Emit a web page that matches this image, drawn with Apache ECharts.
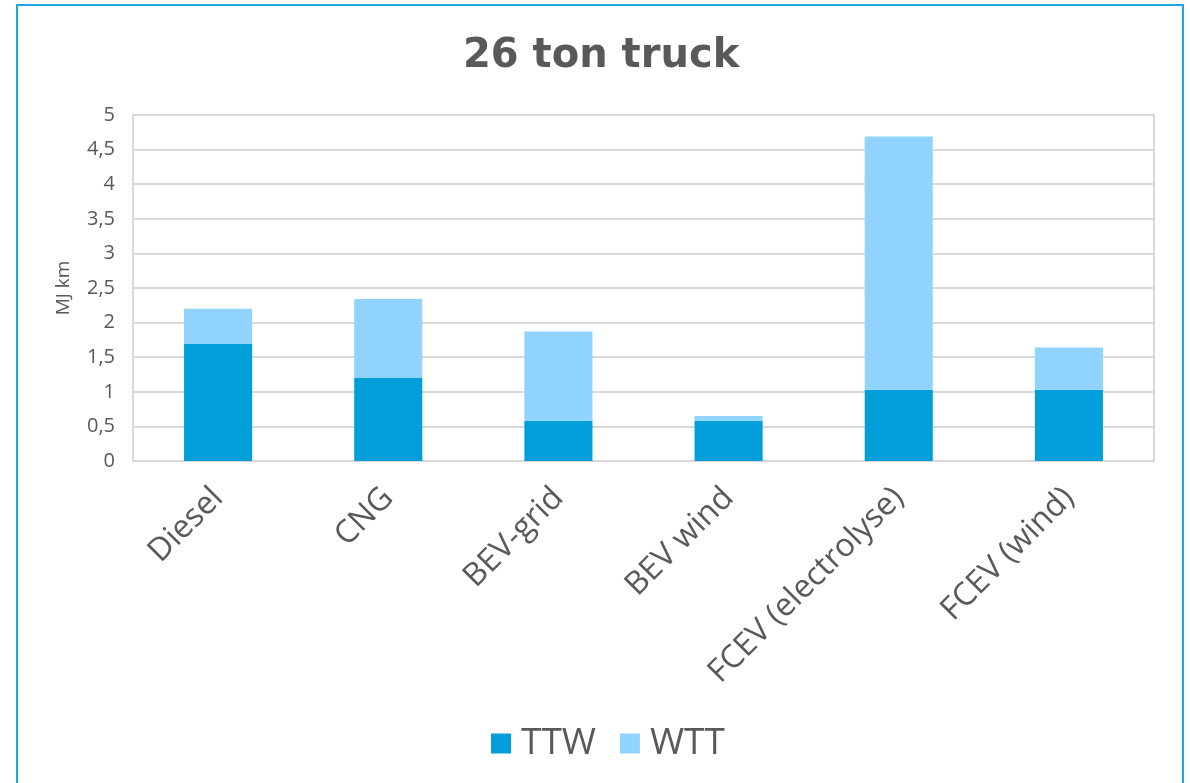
<!DOCTYPE html>
<html>
<head>
<meta charset="utf-8">
<script src="https://cdn.jsdelivr.net/npm/echarts@6/dist/echarts.min.js"></script>
<style>
html,body{margin:0;padding:0;background:#fff;}
#c{width:1190px;height:783px;}
</style>
</head>
<body>
<div id="c"></div>
<script>
const categories = ['Diesel', 'CNG', 'BEV-grid', 'BEV wind', 'FCEV (electrolyse)', 'FCEV (wind)'];
const ttw = [1.69, 1.2, 0.58, 0.58, 1.03, 1.03];
const wtt = [0.51, 1.14, 1.29, 0.07, 3.66, 0.61];
const yTicks = [0, 0.5, 1, 1.5, 2, 2.5, 3, 3.5, 4, 4.5, 5];

const font = '"Open Sans", "Noto Sans", sans-serif';
const chart = echarts.init(document.getElementById('c'), null, {renderer: 'canvas'});
chart.setOption({
  animation: false,
  backgroundColor: '#fff',
  title: {
    text: '26 ton truck',
    left: 458,
    top: 32,
    textStyle: {fontFamily: '"DejaVu Sans", sans-serif', fontWeight: 'bold', fontSize: 40, color: '#595959'}
  },
  graphic: [{
    type: 'rect',
    shape: {x: 17, y: 5, width: 1166, height: 820},
    style: {fill: 'none', stroke: '#1ea6e2', lineWidth: 2},
    silent: true
  }],
  legend: {
    top: 720,
    left: 486,
    itemWidth: 20,
    itemHeight: 20,
    itemGap: 24,
    icon: 'rect',
    textStyle: {fontFamily: font, fontSize: 37, color: '#595959', padding: [0, 0, 0, 5]},
    data: ['TTW', 'WTT']
  },
  grid: {
    left: 133, right: 36, top: 115, bottom: 322,
    show: true, borderColor: '#d9d9d9', borderWidth: 2, containLabel: false
  },
  xAxis: {
    type: 'category',
    data: categories,
    axisLine: {show: true, lineStyle: {color: '#d9d9d9', width: 2}},
    axisTick: {show: false},
    axisLabel: {rotate: 45, fontFamily: font, fontSize: 32, color: '#595959', margin: 32, interval: 0}
  },
  yAxis: {
    type: 'value',
    min: 0, max: 5, interval: 0.5,
    name: 'MJ km',
    nameLocation: 'middle',
    nameGap: 60,
    nameTextStyle: {fontFamily: font, fontSize: 19, color: '#595959'},
    axisLine: {show: true, lineStyle: {color: '#d9d9d9', width: 2}},
    axisTick: {show: false},
    splitLine: {lineStyle: {color: '#d9d9d9', width: 2}},
    axisLabel: {
      fontFamily: font, fontSize: 20, color: '#595959', margin: 18,
      formatter: v => String(v).replace('.', ',')
    }
  },
  series: [
    {name: 'TTW', type: 'bar', stack: 'a', data: ttw, barWidth: '40%', itemStyle: {color: '#009fda'}},
    {name: 'WTT', type: 'bar', stack: 'a', data: wtt, barWidth: '40%', itemStyle: {color: '#8fd3fe'}}
  ]
});
</script>
</body>
</html>
